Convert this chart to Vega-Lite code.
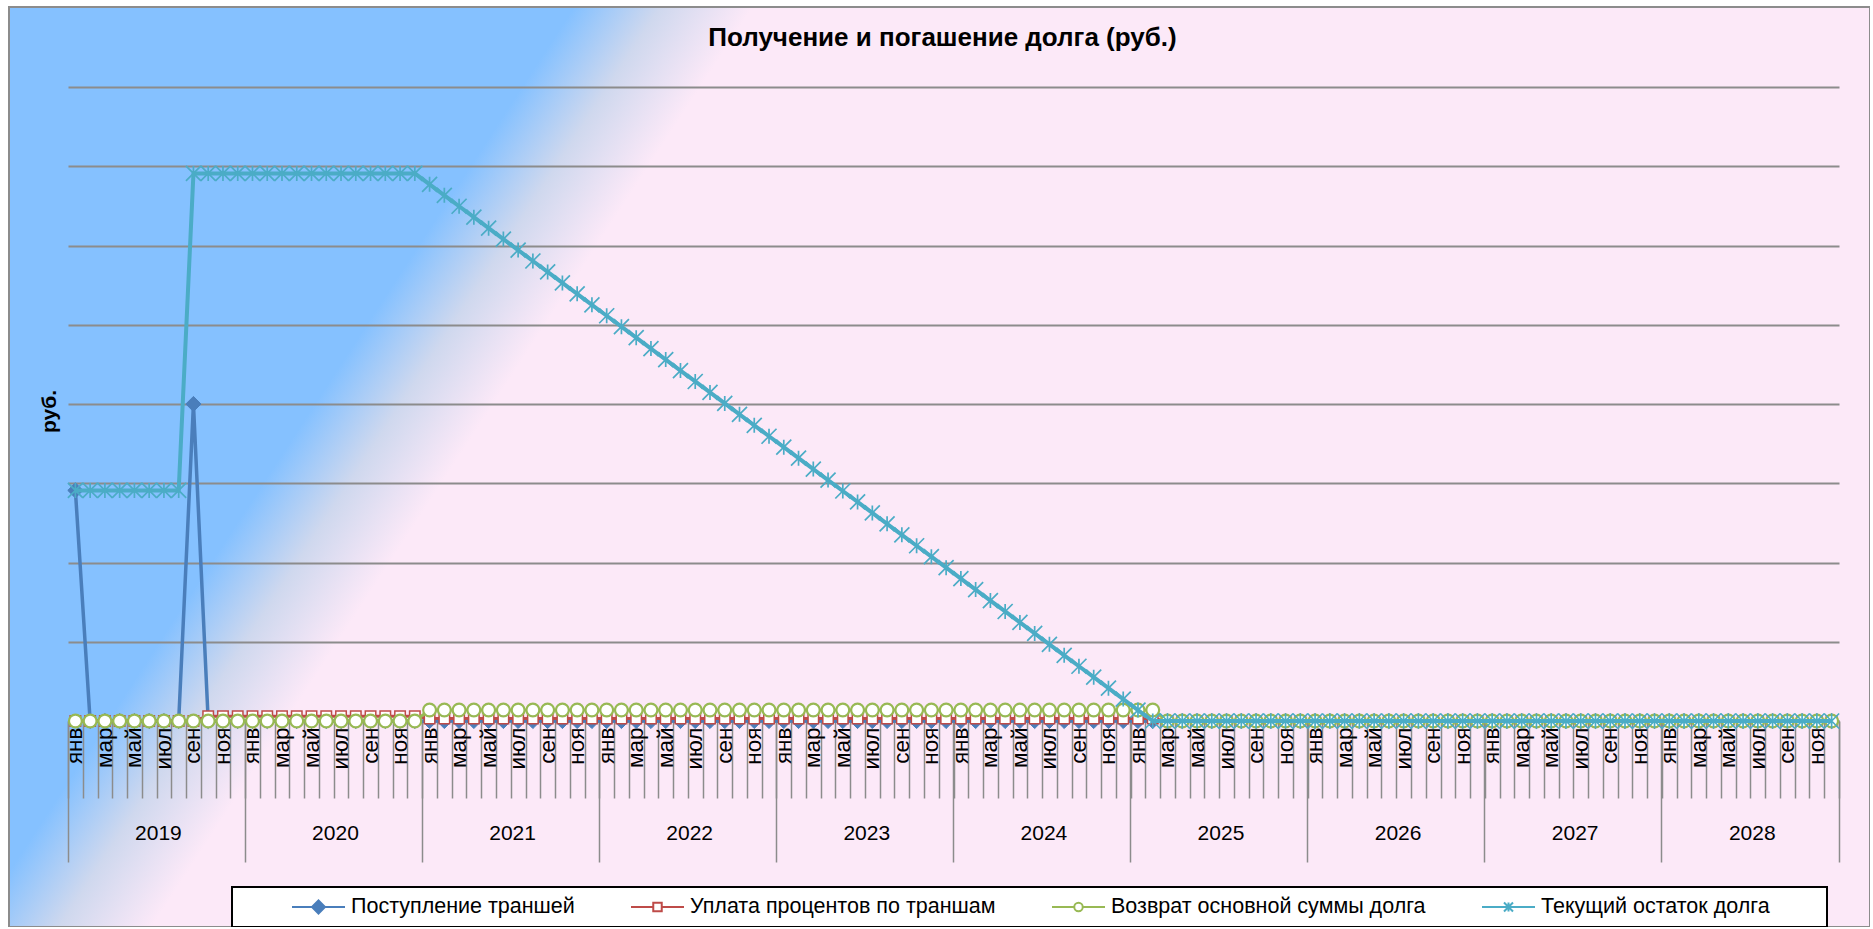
{
  "$schema": "https://vega.github.io/schema/vega-lite/v6.json",
  "autosize": {"type": "none"},
  "width": 1861,
  "height": 920,
  "padding": {"left": 9, "top": 7, "right": 0, "bottom": 0},
  "background": "#FFFFFF",
  "view": {
    "fill": {
      "gradient": "linear", "x1": 0, "y1": 0, "x2": 1, "y2": 0.323,
      "stops": [
        {"offset": 0, "color": "#85C1FF"},
        {"offset": 0.275, "color": "#85C1FF"},
        {"offset": 0.317, "color": "#CFD8EE"},
        {"offset": 0.362, "color": "#FCE9F8"},
        {"offset": 1, "color": "#FCE9F8"}
      ]
    },
    "stroke": "#8C8C8C",
    "strokeWidth": 2
  },
  "title": {
    "text": "Получение и погашение долга (руб.)",
    "anchor": "middle",
    "frame": "group",
    "font": "Liberation Sans",
    "fontSize": 26,
    "fontWeight": "bold",
    "color": "#000000",
    "baseline": "alphabetic",
    "offset": -65,
    "dx": 3
  },
  "datasets": {
    "main": [
      {"m": "2019-01", "p": 2910000, "i": 0, "r": 0, "b": 2910000},
      {"m": "2019-02", "p": 0, "i": 0, "r": 0, "b": 2910000},
      {"m": "2019-03", "p": 0, "i": 0, "r": 0, "b": 2910000},
      {"m": "2019-04", "p": 0, "i": 0, "r": 0, "b": 2910000},
      {"m": "2019-05", "p": 0, "i": 0, "r": 0, "b": 2910000},
      {"m": "2019-06", "p": 0, "i": 0, "r": 0, "b": 2910000},
      {"m": "2019-07", "p": 0, "i": 0, "r": 0, "b": 2910000},
      {"m": "2019-08", "p": 0, "i": 0, "r": 0, "b": 2910000},
      {"m": "2019-09", "p": 4000000, "i": 0, "r": 0, "b": 6910000},
      {"m": "2019-10", "p": 0, "i": 60000, "r": 0, "b": 6910000},
      {"m": "2019-11", "p": 0, "i": 60000, "r": 0, "b": 6910000},
      {"m": "2019-12", "p": 0, "i": 60000, "r": 0, "b": 6910000},
      {"m": "2020-01", "p": 0, "i": 60000, "r": 0, "b": 6910000},
      {"m": "2020-02", "p": 0, "i": 60000, "r": 0, "b": 6910000},
      {"m": "2020-03", "p": 0, "i": 60000, "r": 0, "b": 6910000},
      {"m": "2020-04", "p": 0, "i": 60000, "r": 0, "b": 6910000},
      {"m": "2020-05", "p": 0, "i": 60000, "r": 0, "b": 6910000},
      {"m": "2020-06", "p": 0, "i": 60000, "r": 0, "b": 6910000},
      {"m": "2020-07", "p": 0, "i": 60000, "r": 0, "b": 6910000},
      {"m": "2020-08", "p": 0, "i": 60000, "r": 0, "b": 6910000},
      {"m": "2020-09", "p": 0, "i": 60000, "r": 0, "b": 6910000},
      {"m": "2020-10", "p": 0, "i": 60000, "r": 0, "b": 6910000},
      {"m": "2020-11", "p": 0, "i": 60000, "r": 0, "b": 6910000},
      {"m": "2020-12", "p": 0, "i": 60000, "r": 0, "b": 6910000},
      {"m": "2021-01", "p": 0, "i": 30000, "r": 138200, "b": 6771800},
      {"m": "2021-02", "p": 0, "i": 30000, "r": 138200, "b": 6633600},
      {"m": "2021-03", "p": 0, "i": 30000, "r": 138200, "b": 6495400},
      {"m": "2021-04", "p": 0, "i": 30000, "r": 138200, "b": 6357200},
      {"m": "2021-05", "p": 0, "i": 30000, "r": 138200, "b": 6219000},
      {"m": "2021-06", "p": 0, "i": 30000, "r": 138200, "b": 6080800},
      {"m": "2021-07", "p": 0, "i": 30000, "r": 138200, "b": 5942600},
      {"m": "2021-08", "p": 0, "i": 30000, "r": 138200, "b": 5804400},
      {"m": "2021-09", "p": 0, "i": 30000, "r": 138200, "b": 5666200},
      {"m": "2021-10", "p": 0, "i": 30000, "r": 138200, "b": 5528000},
      {"m": "2021-11", "p": 0, "i": 30000, "r": 138200, "b": 5389800},
      {"m": "2021-12", "p": 0, "i": 30000, "r": 138200, "b": 5251600},
      {"m": "2022-01", "p": 0, "i": 30000, "r": 138200, "b": 5113400},
      {"m": "2022-02", "p": 0, "i": 30000, "r": 138200, "b": 4975200},
      {"m": "2022-03", "p": 0, "i": 30000, "r": 138200, "b": 4837000},
      {"m": "2022-04", "p": 0, "i": 30000, "r": 138200, "b": 4698800},
      {"m": "2022-05", "p": 0, "i": 30000, "r": 138200, "b": 4560600},
      {"m": "2022-06", "p": 0, "i": 30000, "r": 138200, "b": 4422400},
      {"m": "2022-07", "p": 0, "i": 30000, "r": 138200, "b": 4284200},
      {"m": "2022-08", "p": 0, "i": 30000, "r": 138200, "b": 4146000},
      {"m": "2022-09", "p": 0, "i": 30000, "r": 138200, "b": 4007800},
      {"m": "2022-10", "p": 0, "i": 30000, "r": 138200, "b": 3869600},
      {"m": "2022-11", "p": 0, "i": 30000, "r": 138200, "b": 3731400},
      {"m": "2022-12", "p": 0, "i": 30000, "r": 138200, "b": 3593200},
      {"m": "2023-01", "p": 0, "i": 30000, "r": 138200, "b": 3455000},
      {"m": "2023-02", "p": 0, "i": 30000, "r": 138200, "b": 3316800},
      {"m": "2023-03", "p": 0, "i": 30000, "r": 138200, "b": 3178600},
      {"m": "2023-04", "p": 0, "i": 30000, "r": 138200, "b": 3040400},
      {"m": "2023-05", "p": 0, "i": 30000, "r": 138200, "b": 2902200},
      {"m": "2023-06", "p": 0, "i": 30000, "r": 138200, "b": 2764000},
      {"m": "2023-07", "p": 0, "i": 30000, "r": 138200, "b": 2625800},
      {"m": "2023-08", "p": 0, "i": 30000, "r": 138200, "b": 2487600},
      {"m": "2023-09", "p": 0, "i": 30000, "r": 138200, "b": 2349400},
      {"m": "2023-10", "p": 0, "i": 30000, "r": 138200, "b": 2211200},
      {"m": "2023-11", "p": 0, "i": 30000, "r": 138200, "b": 2073000},
      {"m": "2023-12", "p": 0, "i": 30000, "r": 138200, "b": 1934800},
      {"m": "2024-01", "p": 0, "i": 30000, "r": 138200, "b": 1796600},
      {"m": "2024-02", "p": 0, "i": 30000, "r": 138200, "b": 1658400},
      {"m": "2024-03", "p": 0, "i": 30000, "r": 138200, "b": 1520200},
      {"m": "2024-04", "p": 0, "i": 30000, "r": 138200, "b": 1382000},
      {"m": "2024-05", "p": 0, "i": 30000, "r": 138200, "b": 1243800},
      {"m": "2024-06", "p": 0, "i": 30000, "r": 138200, "b": 1105600},
      {"m": "2024-07", "p": 0, "i": 30000, "r": 138200, "b": 967400},
      {"m": "2024-08", "p": 0, "i": 30000, "r": 138200, "b": 829200},
      {"m": "2024-09", "p": 0, "i": 30000, "r": 138200, "b": 691000},
      {"m": "2024-10", "p": 0, "i": 30000, "r": 138200, "b": 552800},
      {"m": "2024-11", "p": 0, "i": 30000, "r": 138200, "b": 414600},
      {"m": "2024-12", "p": 0, "i": 30000, "r": 138200, "b": 276400},
      {"m": "2025-01", "p": 0, "i": 30000, "r": 138200, "b": 138200},
      {"m": "2025-02", "p": 0, "i": 30000, "r": 138200, "b": 0},
      {"m": "2025-03", "p": 0, "i": 0, "r": 0, "b": 0},
      {"m": "2025-04", "p": 0, "i": 0, "r": 0, "b": 0},
      {"m": "2025-05", "p": 0, "i": 0, "r": 0, "b": 0},
      {"m": "2025-06", "p": 0, "i": 0, "r": 0, "b": 0},
      {"m": "2025-07", "p": 0, "i": 0, "r": 0, "b": 0},
      {"m": "2025-08", "p": 0, "i": 0, "r": 0, "b": 0},
      {"m": "2025-09", "p": 0, "i": 0, "r": 0, "b": 0},
      {"m": "2025-10", "p": 0, "i": 0, "r": 0, "b": 0},
      {"m": "2025-11", "p": 0, "i": 0, "r": 0, "b": 0},
      {"m": "2025-12", "p": 0, "i": 0, "r": 0, "b": 0},
      {"m": "2026-01", "p": 0, "i": 0, "r": 0, "b": 0},
      {"m": "2026-02", "p": 0, "i": 0, "r": 0, "b": 0},
      {"m": "2026-03", "p": 0, "i": 0, "r": 0, "b": 0},
      {"m": "2026-04", "p": 0, "i": 0, "r": 0, "b": 0},
      {"m": "2026-05", "p": 0, "i": 0, "r": 0, "b": 0},
      {"m": "2026-06", "p": 0, "i": 0, "r": 0, "b": 0},
      {"m": "2026-07", "p": 0, "i": 0, "r": 0, "b": 0},
      {"m": "2026-08", "p": 0, "i": 0, "r": 0, "b": 0},
      {"m": "2026-09", "p": 0, "i": 0, "r": 0, "b": 0},
      {"m": "2026-10", "p": 0, "i": 0, "r": 0, "b": 0},
      {"m": "2026-11", "p": 0, "i": 0, "r": 0, "b": 0},
      {"m": "2026-12", "p": 0, "i": 0, "r": 0, "b": 0},
      {"m": "2027-01", "p": 0, "i": 0, "r": 0, "b": 0},
      {"m": "2027-02", "p": 0, "i": 0, "r": 0, "b": 0},
      {"m": "2027-03", "p": 0, "i": 0, "r": 0, "b": 0},
      {"m": "2027-04", "p": 0, "i": 0, "r": 0, "b": 0},
      {"m": "2027-05", "p": 0, "i": 0, "r": 0, "b": 0},
      {"m": "2027-06", "p": 0, "i": 0, "r": 0, "b": 0},
      {"m": "2027-07", "p": 0, "i": 0, "r": 0, "b": 0},
      {"m": "2027-08", "p": 0, "i": 0, "r": 0, "b": 0},
      {"m": "2027-09", "p": 0, "i": 0, "r": 0, "b": 0},
      {"m": "2027-10", "p": 0, "i": 0, "r": 0, "b": 0},
      {"m": "2027-11", "p": 0, "i": 0, "r": 0, "b": 0},
      {"m": "2027-12", "p": 0, "i": 0, "r": 0, "b": 0},
      {"m": "2028-01", "p": 0, "i": 0, "r": 0, "b": 0},
      {"m": "2028-02", "p": 0, "i": 0, "r": 0, "b": 0},
      {"m": "2028-03", "p": 0, "i": 0, "r": 0, "b": 0},
      {"m": "2028-04", "p": 0, "i": 0, "r": 0, "b": 0},
      {"m": "2028-05", "p": 0, "i": 0, "r": 0, "b": 0},
      {"m": "2028-06", "p": 0, "i": 0, "r": 0, "b": 0},
      {"m": "2028-07", "p": 0, "i": 0, "r": 0, "b": 0},
      {"m": "2028-08", "p": 0, "i": 0, "r": 0, "b": 0},
      {"m": "2028-09", "p": 0, "i": 0, "r": 0, "b": 0},
      {"m": "2028-10", "p": 0, "i": 0, "r": 0, "b": 0},
      {"m": "2028-11", "p": 0, "i": 0, "r": 0, "b": 0},
      {"m": "2028-12", "p": 0, "i": 0, "r": 0, "b": 0}
    ],
    "leg": [
      {"s": "Поступление траншей"},
      {"s": "Уплата процентов по траншам"},
      {"s": "Возврат основной суммы долга"},
      {"s": "Текущий остаток долга"}
    ]
  },
  "data": {"name": "main"},
  "encoding": {
    "x": {"field": "m", "type": "ordinal", "scale": {"type": "band", "paddingInner": 0, "paddingOuter": 0, "range": [59, 1830]}, "axis": null}
  },
  "layer": [
    {
      "data": {"name": "leg"},
      "transform": [{"filter": "false"}],
      "mark": {"type": "point", "filled": true, "opacity": 1},
      "encoding": {
        "fill": {
          "field": "s", "type": "nominal",
          "scale": {"domain": ["Поступление траншей", "Уплата процентов по траншам", "Возврат основной суммы долга", "Текущий остаток долга"], "range": ["#4A7EBB", "#FFFFFF", "#FFFFFF", "#FFFFFF"]},
          "legend": {"title": "MMM", "titleOrient": "left", "titlePadding": 0, "titleFontSize": 20, "titleOpacity": 0, "orient": "none", "legendX": 223, "legendY": 880, "direction": "horizontal", "columns": 4,
            "labelExpr": "datum.label == 'Текущий остаток долга' ? datum.label + '⠀⠀⠀' : datum.label"}
        },
        "stroke": {
          "field": "s", "type": "nominal",
          "scale": {"domain": ["Поступление траншей", "Уплата процентов по траншам", "Возврат основной суммы долга", "Текущий остаток долга"], "range": ["#4A7EBB", "#BE4B48", "#98B954", "#4BACC6"]},
          "legend": {"title": "MMM", "titleOrient": "left", "titlePadding": 0, "titleFontSize": 20, "titleOpacity": 0, "orient": "none", "legendX": 223, "legendY": 880, "direction": "horizontal", "columns": 4,
            "labelExpr": "datum.label == 'Текущий остаток долга' ? datum.label + '⠀⠀⠀' : datum.label"}
        },
        "shape": {
          "field": "s", "type": "nominal",
          "scale": {"domain": ["Поступление траншей", "Уплата процентов по траншам", "Возврат основной суммы долга", "Текущий остаток долга"],
            "range": [
              "M-1,0L1,0M-0.245,0L0,-0.245L0.245,0L0,0.245Z",
              "M-1,0L-0.16,0M0.16,0L1,0M-0.16,-0.16L0.16,-0.16L0.16,0.16L-0.16,0.16Z",
              "M-1,0L-0.16,0M0.16,0L1,0M0.16,0A0.16 0.16 0 1 1 -0.16 0A0.16 0.16 0 1 1 0.16 0Z",
              "M-1,0L1,0M-0.17,-0.17L0.17,0.17M-0.17,0.17L0.17,-0.17M0,-0.17L0,0.17"
            ]},
          "legend": {"title": "MMM", "titleOrient": "left", "titlePadding": 0, "titleFontSize": 20, "titleOpacity": 0, "orient": "none", "legendX": 223, "legendY": 880, "direction": "horizontal", "columns": 4,
            "labelExpr": "datum.label == 'Текущий остаток долга' ? datum.label + '⠀⠀⠀' : datum.label"}
        }
      }
    },
    {
      "mark": {"type": "line", "color": "#4A7EBB", "strokeWidth": 3.5, "strokeJoin": "round"},
      "encoding": {
        "x": {"field": "m", "type": "ordinal", "scale": {"type": "band", "paddingInner": 0, "paddingOuter": 0, "range": [59, 1830]},
          "axis": {"orient": "bottom", "offset": -206, "tickBand": "extent", "ticks": true, "tickSize": 77, "tickColor": "#8C8C8C", "tickWidth": 1.5, "labels": false, "domain": true, "domainColor": "#8C8C8C", "domainWidth": 2, "grid": false, "title": null}},
        "y": {"field": "p", "type": "quantitative", "scale": {"domain": [0, 8000000], "range": [714, 80], "nice": false}, "axis": null}
      }
    },
    {
      "mark": {"type": "point", "shape": "diamond", "filled": true, "fill": "#4A7EBB", "stroke": "#4A7EBB", "strokeWidth": 1, "size": 230, "opacity": 1},
      "encoding": {
        "y": {"field": "p", "type": "quantitative", "scale": {"domain": [0, 8000000], "range": [714, 80], "nice": false}, "axis": null}
      }
    },
    {
      "mark": {"type": "line", "color": "#BE4B48", "strokeWidth": 3, "strokeJoin": "round"},
      "encoding": {
        "x": {"field": "m", "type": "ordinal", "scale": {"type": "band", "paddingInner": 0, "paddingOuter": 0, "range": [59, 1830]},
          "axis": {"orient": "bottom", "offset": -206,
            "values": ["2019-01","2019-03","2019-05","2019-07","2019-09","2019-11","2020-01","2020-03","2020-05","2020-07","2020-09","2020-11","2021-01","2021-03","2021-05","2021-07","2021-09","2021-11","2022-01","2022-03","2022-05","2022-07","2022-09","2022-11","2023-01","2023-03","2023-05","2023-07","2023-09","2023-11","2024-01","2024-03","2024-05","2024-07","2024-09","2024-11","2025-01","2025-03","2025-05","2025-07","2025-09","2025-11","2026-01","2026-03","2026-05","2026-07","2026-09","2026-11","2027-01","2027-03","2027-05","2027-07","2027-09","2027-11","2028-01","2028-03","2028-05","2028-07","2028-09","2028-11"],
            "ticks": false, "domain": false, "grid": false, "labelAngle": -90, "labelAlign": "right", "labelBaseline": "middle", "labelPadding": 6, "labelFontSize": 22.5, "labelColor": "#000000", "labelOverlap": false, "labelFlush": false,
            "labelExpr": "['янв','фев','мар','апр','май','июн','июл','авг','сен','окт','ноя','дек'][toNumber(slice(datum.value,5,7))-1]",
            "title": null}},
        "y": {"field": "i", "type": "quantitative", "scale": {"domain": [0, 8000000], "range": [714, 80], "nice": false}, "axis": null}
      }
    },
    {
      "mark": {"type": "point", "shape": "square", "filled": true, "fill": "#FFFFFF", "stroke": "#BE4B48", "strokeWidth": 1.5, "size": 110, "opacity": 1},
      "encoding": {
        "y": {"field": "i", "type": "quantitative", "scale": {"domain": [0, 8000000], "range": [714, 80], "nice": false}, "axis": null}
      }
    },
    {
      "mark": {"type": "line", "color": "#98B954", "strokeWidth": 3, "strokeJoin": "round"},
      "encoding": {
        "x": {"field": "m", "type": "ordinal", "scale": {"type": "band", "paddingInner": 0, "paddingOuter": 0, "range": [59, 1830]},
          "axis": {"orient": "bottom", "offset": -206,
            "values": ["2019-01","2020-01","2021-01","2022-01","2023-01","2024-01","2025-01","2026-01","2027-01","2028-01"],
            "bandPosition": 0, "ticks": true, "tickSize": 141, "tickColor": "#8C8C8C", "tickWidth": 1.5, "domain": false, "grid": false,
            "labelExpr": "slice(datum.value,0,4)", "labelAngle": 0, "labelAlign": "center", "labelBaseline": "middle", "labelPadding": -29, "labelOffset": 83, "labelFontSize": 21, "labelColor": "#000000", "labelOverlap": false, "labelFlush": false,
            "title": null}},
        "y": {"field": "r", "type": "quantitative", "scale": {"domain": [0, 8000000], "range": [714, 80], "nice": false}, "axis": null}
      }
    },
    {
      "mark": {"type": "point", "shape": "circle", "filled": true, "fill": "#FFFFFF", "stroke": "#98B954", "strokeWidth": 2.2, "size": 165, "opacity": 1},
      "encoding": {
        "y": {"field": "r", "type": "quantitative", "scale": {"domain": [0, 8000000], "range": [714, 80], "nice": false}, "axis": null}
      }
    },
    {
      "mark": {"type": "line", "color": "#4BACC6", "strokeWidth": 4, "strokeJoin": "round"},
      "encoding": {
        "x": {"field": "m", "type": "ordinal", "scale": {"type": "band", "paddingInner": 0, "paddingOuter": 0, "range": [59, 1830]},
          "axis": {"orient": "bottom", "offset": -206, "values": ["2028-12"], "bandPosition": 1, "ticks": true, "tickSize": 141, "tickColor": "#8C8C8C", "tickWidth": 1.5, "labels": false, "domain": false, "grid": false, "title": null}},
        "y": {"field": "b", "type": "quantitative", "scale": {"domain": [0, 8000000], "range": [714, 80], "nice": false},
          "axis": {"orient": "left", "values": [1000000, 2000000, 3000000, 4000000, 5000000, 6000000, 7000000, 8000000], "grid": true, "gridColor": "#8C8C8C", "gridWidth": 2, "ticks": false, "labels": false, "domain": false,
            "title": "руб.", "titleFontSize": 21, "titleFontWeight": "bold", "titleColor": "#000000", "titleAngle": 270, "titleX": 46, "titleY": 404, "titleAlign": "center", "titleBaseline": "alphabetic"}}
      }
    },
    {
      "mark": {"type": "point", "shape": "M-1,-1L1,1M-1,1L1,-1M0,-1L0,1", "filled": false, "stroke": "#4BACC6", "strokeWidth": 1.7, "size": 225, "opacity": 1},
      "encoding": {
        "y": {"field": "b", "type": "quantitative", "scale": {"domain": [0, 8000000], "range": [714, 80], "nice": false}, "axis": null}
      }
    }
  ],
  "resolve": {"axis": {"x": "independent", "y": "independent"}},
  "config": {
    "font": "Liberation Sans",
    "axis": {"labelFont": "Liberation Sans", "titleFont": "Liberation Sans"},
    "legend": {
      "labelFont": "Liberation Sans", "labelFontSize": 21.5, "labelColor": "#000000", "labelLimit": 0, "labelOffset": 5,
      "titleFont": "Liberation Sans",
      "symbolSize": 2809, "symbolStrokeWidth": 2, "columnPadding": 55, "clipHeight": 22,
      "padding": 9, "fillColor": "#FFFFFF", "strokeColor": "#000000", "strokeWidth": 2
    }
  }
}
